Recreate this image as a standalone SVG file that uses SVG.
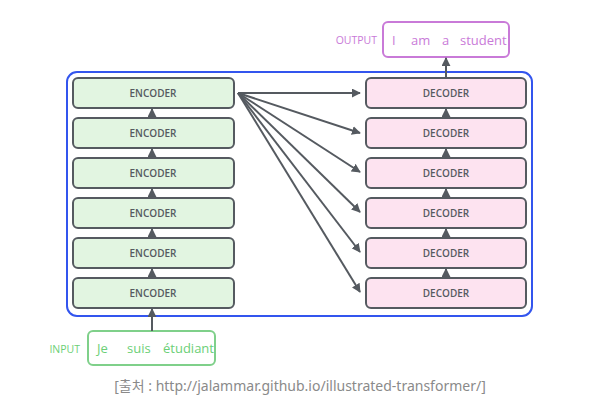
<svg xmlns="http://www.w3.org/2000/svg" width="611" height="411" viewBox="0 0 611 411">
<style>
.enc{fill:#e2f5e1;stroke:#555a60;stroke-width:2}
.dec{fill:#fde3f0;stroke:#555a60;stroke-width:2}
.bt{font-family:"Open Sans","Noto Sans",sans-serif;font-size:10px;font-weight:600;fill:#555a60;text-anchor:middle}
.ln{stroke:#555a60;stroke-width:2;fill:none}
.out{font-family:"Open Sans","Noto Sans",sans-serif;font-size:13px;fill:#c97ad8}
.inp{font-family:"Open Sans","Noto Sans",sans-serif;font-size:13px;fill:#6bcf76}
</style>
<defs>
<marker id="ah" viewBox="0 0 10 10" refX="9" refY="5" markerWidth="4.5" markerHeight="4.5" orient="auto" markerUnits="strokeWidth">
<path d="M0,0 L10,5 L0,10 z" fill="#555a60"/>
</marker>
</defs>
<rect width="611" height="411" fill="#ffffff"/>
<rect id="container" x="67" y="72" width="465" height="244" rx="10" fill="none" stroke="#3355ee" stroke-width="2"/>
<g id="output">
<text x="377" y="44" class="out" style="font-size:10.5px" text-anchor="end">OUTPUT</text>
<rect x="383" y="22" width="126" height="35" rx="5" fill="#fff" stroke="#c97ad8" stroke-width="2"/>
<text x="392" y="45" class="out">I</text>
<text x="411" y="45" class="out">am</text>
<text x="442" y="45" class="out">a</text>
<text x="460" y="45" class="out">student</text>
</g>
<g id="input">
<text x="80" y="353" class="inp" style="font-size:10.5px" text-anchor="end">INPUT</text>
<rect x="88" y="331" width="127" height="34" rx="5" fill="#fff" stroke="#7fd08a" stroke-width="2"/>
<text x="97" y="353" class="inp">Je</text>
<text x="127" y="353" class="inp">suis</text>
<text x="163" y="353" class="inp">étudiant</text>
</g>
<g id="enc1"><rect class="enc" x="73" y="78" width="161" height="30" rx="5"/><text class="bt" x="153" y="97">ENCODER</text></g>
<g id="enc2"><rect class="enc" x="73" y="118" width="161" height="30" rx="5"/><text class="bt" x="153" y="137">ENCODER</text></g>
<g id="enc3"><rect class="enc" x="73" y="158" width="161" height="30" rx="5"/><text class="bt" x="153" y="177">ENCODER</text></g>
<g id="enc4"><rect class="enc" x="73" y="198" width="161" height="30" rx="5"/><text class="bt" x="153" y="217">ENCODER</text></g>
<g id="enc5"><rect class="enc" x="73" y="238" width="161" height="30" rx="5"/><text class="bt" x="153" y="257">ENCODER</text></g>
<g id="enc6"><rect class="enc" x="73" y="278" width="161" height="30" rx="5"/><text class="bt" x="153" y="297">ENCODER</text></g>
<g id="dec1"><rect class="dec" x="366" y="78" width="160" height="30" rx="5"/><text class="bt" x="446" y="97">DECODER</text></g>
<g id="dec2"><rect class="dec" x="366" y="118" width="160" height="30" rx="5"/><text class="bt" x="446" y="137">DECODER</text></g>
<g id="dec3"><rect class="dec" x="366" y="158" width="160" height="30" rx="5"/><text class="bt" x="446" y="177">DECODER</text></g>
<g id="dec4"><rect class="dec" x="366" y="198" width="160" height="30" rx="5"/><text class="bt" x="446" y="217">DECODER</text></g>
<g id="dec5"><rect class="dec" x="366" y="238" width="160" height="30" rx="5"/><text class="bt" x="446" y="257">DECODER</text></g>
<g id="dec6"><rect class="dec" x="366" y="278" width="160" height="30" rx="5"/><text class="bt" x="446" y="297">DECODER</text></g>
<g id="connectors">
<line class="ln" x1="152" y1="331" x2="152" y2="309" marker-end="url(#ah)"/>
<line class="ln" x1="152" y1="278" x2="152" y2="269" marker-end="url(#ah)"/>
<line class="ln" x1="152" y1="238" x2="152" y2="229" marker-end="url(#ah)"/>
<line class="ln" x1="152" y1="198" x2="152" y2="189" marker-end="url(#ah)"/>
<line class="ln" x1="152" y1="158" x2="152" y2="149" marker-end="url(#ah)"/>
<line class="ln" x1="152" y1="118" x2="152" y2="109" marker-end="url(#ah)"/>
<line class="ln" x1="446" y1="278" x2="446" y2="269" marker-end="url(#ah)"/>
<line class="ln" x1="446" y1="238" x2="446" y2="229" marker-end="url(#ah)"/>
<line class="ln" x1="446" y1="198" x2="446" y2="189" marker-end="url(#ah)"/>
<line class="ln" x1="446" y1="158" x2="446" y2="149" marker-end="url(#ah)"/>
<line class="ln" x1="446" y1="118" x2="446" y2="109" marker-end="url(#ah)"/>
<line class="ln" x1="446" y1="78" x2="446" y2="58" marker-end="url(#ah)"/>
<line class="ln" x1="238" y1="93" x2="360" y2="93" marker-end="url(#ah)"/>
<line class="ln" x1="238" y1="93" x2="360" y2="133" marker-end="url(#ah)"/>
<line class="ln" x1="238" y1="93" x2="360" y2="172" marker-end="url(#ah)"/>
<line class="ln" x1="238" y1="93" x2="360" y2="212" marker-end="url(#ah)"/>
<line class="ln" x1="238" y1="93" x2="360" y2="252" marker-end="url(#ah)"/>
<line class="ln" x1="238" y1="93" x2="360" y2="292" marker-end="url(#ah)"/>
</g>
<text x="300" y="391" text-anchor="middle" font-family="'Noto Sans','Noto Sans CJK KR',sans-serif" font-size="14" fill="#8a8a8a">[출처 : http://jalammar.github.io/illustrated-transformer/]</text>
</svg>
